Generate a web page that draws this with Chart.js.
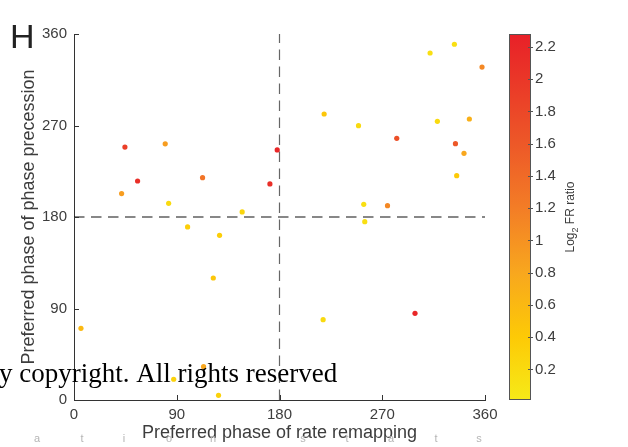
<!DOCTYPE html>
<html>
<head>
<meta charset="utf-8">
<script src="https://cdn.jsdelivr.net/npm/chart.js@4"></script>
<style>
  body { margin: 0; background: #fff; }
  #wrap { width: 628px; height: 447px; }
</style>
</head>
<body>
<div id="wrap"><canvas id="chart" width="628" height="447"></canvas></div>
<script>
// preferred phases (deg)
const phaseRate = [44.6, 79.9, 55.7, 41.7, 112.6, 82.9, 147.3, 171.6, 178, 333.2, 311.9, 357.4, 219.1, 249.2, 318.3, 346.3,
                   282.7, 334.1, 341.6, 335.2, 253.8, 274.6, 254.7, 218.2, 298.7, 6.1, 99.5, 127.5, 122, 113.5, 87.3, 126.6];
const phasePrec = [248.8, 252, 215.4, 203, 218.7, 193.5, 185, 212.5, 246, 349.9, 341.3, 327.5, 281.3, 269.8, 274.1, 276.4,
                   257.4, 252.1, 242.6, 220.6, 192.5, 191.1, 175.4, 79, 85.3, 70.5, 170.2, 162, 120, 32.8, 20.4, 4.6];
// log2 FR ratio (colour of each dot)
const log2FR = [1.9, 0.9, 2.1, 0.9, 1.3, 0.2, 0.25, 2.1, 2.2, 0.15, 0.15, 1.1, 0.45, 0.2, 0.2, 0.7,
                1.7, 1.6, 0.8, 0.4, 0.15, 1.1, 0.15, 0.2, 2.2, 0.6, 0.35, 0.35, 0.45, 0.8, 0.3, 0.3];

const phaseTicks = [0, 90, 180, 270, 360];
const cbTicks = [0.2, 0.4, 0.6, 0.8, 1, 1.2, 1.4, 1.6, 1.8, 2, 2.2];
const cbMin = 0.01, cbMax = 2.28;

// yellow -> red colormap
const cmap = [
  [0.01, [246, 234, 24]],
  [0.4, [253, 202, 6]],
  [0.8, [248, 167, 30]],
  [1.2, [243, 125, 38]],
  [1.6, [237, 88, 40]],
  [2.28, [232, 32, 40]]
];

function colourFor(v) {
  if (v <= cmap[0][0]) return 'rgb(' + cmap[0][1].join(',') + ')';
  for (let i = 1; i < cmap.length; i++) {
    if (v <= cmap[i][0]) {
      const t = (v - cmap[i-1][0]) / (cmap[i][0] - cmap[i-1][0]);
      const a = cmap[i-1][1], b = cmap[i][1];
      return 'rgb(' + a.map((c, k) => Math.round(c + (b[k] - c) * t)).join(',') + ')';
    }
  }
  return 'rgb(' + cmap[cmap.length-1][1].join(',') + ')';
}

const points = phaseRate.map((x, i) => ({ x: x, y: phasePrec[i] }));
const dotColours = log2FR.map(colourFor);

const txtCol = '#3d3d3d';
const font = '"Liberation Sans", Arial, Helvetica, sans-serif';

// colorbar, inward ticks, panel letter and overlay text
const extras = {
  id: 'extras',
  afterDraw(chart) {
    const ctx = chart.ctx;
    const xs = chart.scales.x, ys = chart.scales.y, cb = chart.scales.cb;
    const area = chart.chartArea;
    ctx.save();

    // inward ticks
    ctx.strokeStyle = '#333';
    ctx.lineWidth = 1;
    ctx.beginPath();
    phaseTicks.forEach(v => {
      const px = Math.round(xs.getPixelForValue(v)) + 0.5;
      ctx.moveTo(px, area.bottom); ctx.lineTo(px, area.bottom - 5);
      const py = Math.round(ys.getPixelForValue(v)) + 0.5;
      ctx.moveTo(area.left, py); ctx.lineTo(area.left + 5, py);
    });
    ctx.stroke();

    // colorbar
    const cx0 = 509, cx1 = 531;
    const top = cb.getPixelForValue(cbMax), bot = cb.getPixelForValue(cbMin);
    const grad = ctx.createLinearGradient(0, bot, 0, top);
    cmap.forEach(s => {
      grad.addColorStop((s[0] - cbMin) / (cbMax - cbMin), 'rgb(' + s[1].join(',') + ')');
    });
    ctx.fillStyle = grad;
    ctx.fillRect(cx0, top, cx1 - cx0, bot - top);
    ctx.strokeStyle = '#555';
    ctx.strokeRect(cx0 + 0.5, top + 0.5, cx1 - cx0 - 1, bot - top - 1);
    ctx.beginPath();
    cbTicks.forEach(v => {
      const py = Math.round(cb.getPixelForValue(v)) + 0.5;
      ctx.moveTo(cx1 - 3, py); ctx.lineTo(cx1 + 2, py);
    });
    ctx.stroke();

    // colorbar label with subscript
    ctx.translate(574, 217);
    ctx.rotate(-Math.PI / 2);
    ctx.fillStyle = txtCol;
    ctx.textBaseline = 'alphabetic';
    ctx.font = '12px ' + font;
    const w1 = ctx.measureText('Log').width;
    const w3 = ctx.measureText(' FR ratio').width;
    ctx.font = '9px ' + font;
    const w2 = ctx.measureText('2').width;
    let sx = -(w1 + w2 + w3) / 2;
    ctx.font = '12px ' + font;
    ctx.fillText('Log', sx, 0);
    ctx.font = '9px ' + font;
    ctx.fillText('2', sx + w1, 4);
    ctx.font = '12px ' + font;
    ctx.fillText(' FR ratio', sx + w1 + w2, 0);
    ctx.setTransform(1, 0, 0, 1, 0, 0);

    // panel letter
    ctx.fillStyle = '#222';
    ctx.font = '34px ' + font;
    ctx.textBaseline = 'alphabetic';
    ctx.textAlign = 'left';
    ctx.fillText('H', 10, 48);

    // overlay text from the source page
    ctx.fillStyle = '#000';
    ctx.font = '27px "Liberation Serif", "Times New Roman", serif';
    ctx.fillText('y copyright. All rights reserved', -1, 382);

    ctx.fillStyle = '#b5b5b5';
    ctx.font = '11px ' + font;
    ctx.textAlign = 'center';
    ctx.textBaseline = 'middle';
    const faint = ['a', 't', 'i', 'o', 'n', 's', 't', 'a', 't', 's'];
    const faintX = [37, 82, 124, 169, 213, 303, 347, 391, 436, 479];
    faint.forEach((c, i) => ctx.fillText(c, faintX[i], 439));
    ctx.restore();
  }
};

const ctx = document.getElementById('chart').getContext('2d');
new Chart(ctx, {
  type: 'scatter',
  data: {
    datasets: [{
      label: 'cells',
      data: points,
      pointBackgroundColor: dotColours,
      pointBorderWidth: 0,
      pointRadius: 2.6,
      order: 0
    }, {
      label: 'x = 180',
      data: [{ x: 180, y: 0 }, { x: 180, y: 360 }],
      showLine: true,
      borderColor: '#666',
      borderWidth: 1.2,
      borderDash: [10.5, 6.5],
      pointRadius: 0,
      order: 2
    }, {
      label: 'y = 180',
      data: [{ x: 0, y: 180 }, { x: 360, y: 180 }],
      showLine: true,
      borderColor: '#111',
      borderWidth: 1.2,
      borderDash: [10.5, 6.5],
      pointRadius: 0,
      order: 1
    }]
  },
  options: {
    responsive: false,
    animation: false,
    layout: { autoPadding: false, padding: { top: 34, left: 0, right: 0, bottom: 0 } },
    plugins: { legend: { display: false }, tooltip: { enabled: false } },
    scales: {
      x: {
        min: 0, max: 360,
        afterBuildTicks: s => { s.ticks = phaseTicks.map(v => ({ value: v })); },
        afterFit: s => { s.height = 47; s.paddingLeft = 0; s.paddingRight = 0; },
        grid: { display: false, drawTicks: false },
        border: { color: '#333', width: 1 },
        ticks: { color: txtCol, font: { family: font, size: 15 }, padding: 6, maxRotation: 0 },
        title: { display: true, text: 'Preferred phase of rate remapping', color: txtCol,
                 font: { family: font, size: 18 }, padding: { top: 0, bottom: 3 } }
      },
      y: {
        min: 0, max: 360,
        afterBuildTicks: s => { s.ticks = phaseTicks.map(v => ({ value: v })); },
        afterFit: s => { s.width = 74; s.paddingTop = 0; s.paddingBottom = 0; },
        grid: { display: false, drawTicks: false },
        border: { color: '#333', width: 1 },
        ticks: { color: txtCol, font: { family: font, size: 15 }, padding: 7 },
        title: { display: true, text: 'Preferred phase of phase precession', color: txtCol,
                 font: { family: font, size: 18 }, padding: { top: 18, bottom: 0 } }
      },
      cb: {
        type: 'linear',
        position: 'right',
        min: cbMin, max: cbMax,
        afterBuildTicks: s => { s.ticks = cbTicks.map(v => ({ value: v })); },
        afterFit: s => { s.width = 143; s.paddingTop = 0; s.paddingBottom = 0; },
        grid: { display: false, drawTicks: false },
        border: { display: false },
        ticks: { color: txtCol, font: { family: font, size: 15 }, padding: 50,
                 callback: v => String(v) }
      }
    }
  },
  plugins: [extras]
});
</script>
</body>
</html>
